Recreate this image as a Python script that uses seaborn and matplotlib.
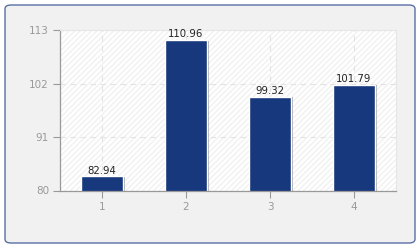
import matplotlib
matplotlib.use("Agg")
import matplotlib.pyplot as plt
import matplotlib.patheffects as pe
from matplotlib.patches import FancyBboxPatch, Rectangle
import seaborn as sns
import pandas as pd

categories = ["1", "2", "3", "4"]
values = [82.94, 110.96, 99.32, 101.79]
yticks = [80, 91, 102, 113]

sns.set_style("white")
plt.rcParams["font.family"] = ["DejaVu Sans"]

fig = plt.figure(figsize=(4.2, 2.5), dpi=100)
fig.patch.set_facecolor("white")

box = FancyBboxPatch((5 / 420, 7 / 250), 410 / 420, 238 / 250,
                     boxstyle="round,pad=0,rounding_size=0.015",
                     transform=fig.transFigure, facecolor="#f1f1f1",
                     edgecolor="#5b6ea6", linewidth=1.0, zorder=-10)
fig.patches.append(box)

ax = fig.add_axes([60 / 420, (250 - 190.5) / 250, 336 / 420, 160.5 / 250])
ax.set_zorder(5)
ax.set_facecolor("none")
bg = Rectangle((0, 0), 1, 1, transform=ax.transAxes, facecolor="white",
               hatch="//////", edgecolor="#f1f1f1", linewidth=0, zorder=0)
ax.add_patch(bg)

df = pd.DataFrame({"cat": categories, "val": values})
sns.barplot(data=df, x="cat", y="val", color="#17387d", saturation=1,
            width=0.5, ax=ax, zorder=2)
for p in ax.patches[1:]:
    p.set_path_effects([pe.SimplePatchShadow(offset=(1.2, -0.5), shadow_rgbFace="#777777", alpha=0.6), pe.Normal()])

for c in ax.containers:
    ax.bar_label(c, labels=[f"{v:.2f}" for v in values], fontsize=7.3, color="#222222", padding=0.5)

ax.set_ylim(80, 113)
ax.set_yticks(yticks)
ax.set_xlabel("")
ax.set_ylabel("")
ax.set_axisbelow(True)
ax.grid(True, axis="both", color="#e3e3e3", linestyle=(0, (5, 4)), linewidth=0.8, zorder=1)

for s in ["left", "bottom"]:
    ax.spines[s].set_color("#999999")
    ax.spines[s].set_linewidth(0.9)
for s in ["top", "right"]:
    ax.spines[s].set_color("#e6e6e6")
    ax.spines[s].set_linewidth(0.8)

ax.tick_params(axis="both", which="both", direction="out", length=5, width=0.8,
               color="#999999", labelcolor="#999999", labelsize=7.5, pad=3,
               left=True, bottom=True)

fig.savefig("out.png", dpi=100, facecolor="white")
